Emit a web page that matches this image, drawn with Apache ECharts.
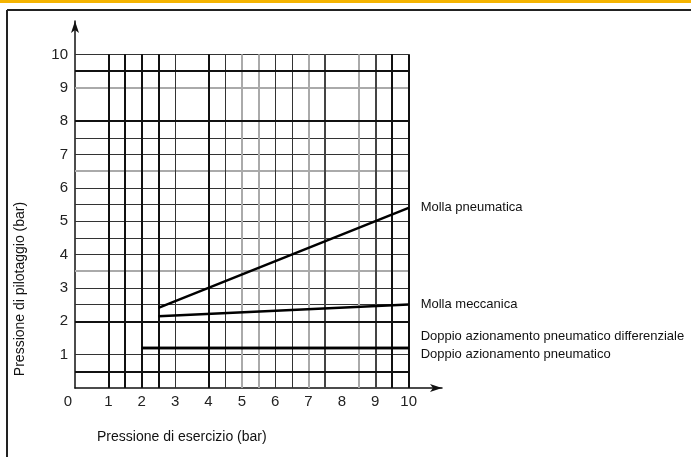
<!DOCTYPE html>
<html>
<head>
<meta charset="utf-8">
<style>
    html, body { margin: 0; padding: 0; background: #fff; }
    #chart { width: 691px; height: 457px; }
</style>
<script src="https://cdn.jsdelivr.net/npm/echarts@6/dist/echarts.min.js"></script>
</head>
<body>
<div id="chart"></div>
<script>
// curve data (pressione di esercizio, pressione di pilotaggio)
const mollaPneumatica = [[2.5, 2.4], [10, 5.4]];
const mollaMeccanica = [[2.5, 2.15], [10, 2.5]];
const doppioDifferenziale = [[2, 1.2], [10, 1.2]];
const doppioPneumatico = [[2, 1.2], [10, 1.2]];

// grid lines of the drawing (values on the axes)
const gridYBlack = [0.5, 2, 8, 9.5];
const gridYGray = [3.5, 6.5, 9];
const gridYThin = [1, 2.5, 3, 4, 4.5, 5, 5.5, 6, 7, 7.5, 10];
const gridXBlack = [1, 1.5, 2, 2.5, 4, 9.5, 10];
const gridXDark = [7.5, 9];
const gridXThin = [3, 4.5, 6, 6.5];
const gridXGray = [5, 5.5, 7, 8.5];

const font = "'Liberation Sans', Arial, sans-serif";

var styles = {
    black: { color: '#111', width: 2, type: 'solid' },
    dark: { color: '#444', width: 2, type: 'solid' },
    thin: { color: '#333', width: 1, type: 'solid' },
    gray: { color: '#aaa', width: 2, type: 'solid' }
};

function hLines(list, st) {
    return list.map(function (v) {
        return [{ coord: [0, v], lineStyle: st }, { coord: [10, v] }];
    });
}
function vLines(list, st) {
    return list.map(function (v) {
        return [{ coord: [v, 0], lineStyle: st }, { coord: [v, 10] }];
    });
}

var gridLines = [].concat(
    hLines(gridYThin, styles.thin),
    hLines(gridYGray, styles.gray),
    vLines(gridXThin, styles.thin),
    vLines(gridXGray, styles.gray),
    vLines(gridXDark, styles.dark),
    hLines(gridYBlack, styles.black),
    vLines(gridXBlack, styles.black)
);

function curve(name, data, offset) {
    return {
        name: name,
        type: 'line',
        data: data,
        symbol: 'none',
        z: 5,
        lineStyle: { color: '#000', width: 2.5 },
        endLabel: {
            show: true,
            formatter: name,
            distance: 12,
            offset: offset,
            color: '#111',
            fontFamily: font,
            fontSize: 13
        }
    };
}

var chart = echarts.init(document.getElementById('chart'));

var option = {
    animation: false,
    backgroundColor: '#fff',
    grid: { left: 75, right: 249, top: 21, bottom: 69 },
    xAxis: {
        type: 'value',
        min: 0,
        max: 11,
        interval: 1,
        splitLine: { show: false },
        axisTick: { show: false },
        axisLine: {
            lineStyle: { color: '#111', width: 1.5 },
            symbol: ['none', 'arrow'],
            symbolSize: [6, 12]
        },
        axisLabel: {
            margin: 6,
            color: '#222',
            fontFamily: font,
            fontSize: 15,
            formatter: function (v) {
                if (v > 10) return '';
                if (v === 0) return '{o|0}';
                return String(v);
            },
            rich: { o: { padding: [0, 14, 0, 0], fontFamily: font, fontSize: 15, color: '#222' } }
        }
    },
    yAxis: {
        type: 'value',
        min: 0,
        max: 11,
        interval: 1,
        splitLine: { show: false },
        axisTick: { show: false },
        axisLine: {
            lineStyle: { color: '#111', width: 1.5 },
            symbol: ['none', 'arrow'],
            symbolSize: [6, 12]
        },
        axisLabel: {
            margin: 7,
            color: '#222',
            fontFamily: font,
            fontSize: 15,
            formatter: function (v) {
                return (v === 0 || v > 10) ? '' : String(v);
            }
        }
    },
    graphic: [
        { type: 'rect', left: 0, top: 0, shape: { width: 691, height: 3 }, style: { fill: '#f5b400' } },
        { type: 'line', shape: { x1: 7, y1: 10, x2: 691, y2: 10 }, style: { stroke: '#222', lineWidth: 2 } },
        { type: 'line', shape: { x1: 7, y1: 10, x2: 7, y2: 457 }, style: { stroke: '#222', lineWidth: 2 } },
        {
            type: 'text', x: 97, y: 437,
            style: { text: 'Pressione di esercizio (bar)', fill: '#111', font: '14px ' + font, textVerticalAlign: 'middle' }
        },
        {
            type: 'text', x: 20, y: 289, rotation: Math.PI / 2,
            style: { text: 'Pressione di pilotaggio (bar)', fill: '#111', font: '14px ' + font, textAlign: 'center', textVerticalAlign: 'middle' }
        }
    ],
    series: [
        {
            type: 'line',
            data: [],
            z: 1,
            silent: true,
            markLine: {
                silent: true,
                symbol: 'none',
                label: { show: false },
                data: gridLines
            }
        },
        curve('Molla pneumatica', mollaPneumatica, [0, 0]),
        curve('Molla meccanica', mollaMeccanica, [0, 0]),
        curve('Doppio azionamento pneumatico differenziale', doppioDifferenziale, [0, -12]),
        curve('Doppio azionamento pneumatico', doppioPneumatico, [0, 6])
    ]
};

chart.setOption(option);
</script>
</body>
</html>
